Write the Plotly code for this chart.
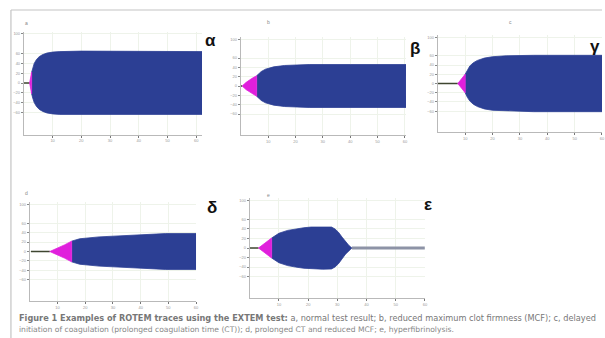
import plotly.graph_objects as go

W, H = 605, 338

# ---------------- data (time in min, half-amplitude in mm) ----------------
# a: normal
t_a = [2.0, 2.3, 2.7, 3.1, 3.6, 4.4, 5.4, 6.6, 8.0, 10.0, 12.5, 20, 30, 40, 50, 62]
amp_a = [0, 10, 22, 31, 40, 48, 54, 58, 61, 63, 64, 65, 65, 65, 64, 64]
nmag_a = 3
flat_a = [0.0, 2.0]
# b: reduced MCF
t_b = [0.5, 2.0, 4.0, 5.8, 7.5, 9.0, 12, 16, 25, 40, 60.4]
amp_b = [0, 8, 16, 22, 31, 36, 41, 44, 46, 46, 46]
nmag_b = 4
flat_b = [0.0, 0.5]
# c: prolonged CT
t_c = [7.3, 8.5, 10.0, 10.8, 11.7, 13.0, 14.5, 17, 20, 25, 35, 60]
amp_c = [0, 8, 20, 30, 38, 45, 50, 55, 58, 60, 61, 61]
nmag_c = 3
flat_c = [0.0, 7.3]
# d: prolonged CT + reduced MCF
t_d = [7.2, 10.0, 12.5, 15.1, 18, 25, 37, 49, 60]
amp_d = [0, 7, 14, 22, 27, 31, 35, 38, 38]
nmag_d = 4
flat_d = [0.4, 7.2]
# e: hyperfibrinolysis
t_e = [3.0, 5.0, 7.5, 10, 13, 15.7, 18.5, 21, 25, 28, 29.2, 30.4, 31.6, 32.8, 34.0, 35]
amp_e = [0, 10, 21, 31, 37, 40, 42.5, 44, 44.5, 44, 40, 33, 23, 13, 5, 0]
nmag_e = 3
flat_e = [0.0, 3.0]
tail_e = [35, 60]

x_ticks = [10, 20, 30, 40, 50, 60]
y_ticks = [100, 60, 40, 20, 0, -20, -40, -60]

greek = ["α", "β", "γ", "δ", "ε"]
small = ["a", "b", "c", "d", "e"]
caption1 = ("<b>Figure 1 Examples of ROTEM traces using the EXTEM test:</b> a, normal test result; "
            "b, reduced maximum clot firmness (MCF); c, delayed")
caption2 = ("initiation of coagulation (prolonged coagulation time (CT)); d, prolonged CT and "
            "reduced MCF; e, hyperfibrinolysis.")

BLUE = "#2c3f94"
MAG = "#e01fdc"

panels = [
    dict(t=t_a, a=amp_a, n=nmag_a, flat=flat_a, xr=[0, 62], box=(24, 203, 31.5, 134.5)),
    dict(t=t_b, a=amp_b, n=nmag_b, flat=flat_b, xr=[0, 60.4], box=(242, 408, 37, 135)),
    dict(t=t_c, a=amp_c, n=nmag_c, flat=flat_c, xr=[0, 60], box=(440, 605, 35, 132)),
    dict(t=t_d, a=amp_d, n=nmag_d, flat=flat_d, xr=[0, 60], box=(30, 197, 202, 301)),
    dict(t=t_e, a=amp_e, n=nmag_e, flat=flat_e, xr=[0, 60], box=(251, 427, 198, 298)),
]


def lens(t, a):
    return list(t) + list(t[::-1]), list(a) + [-v for v in a[::-1]]


fig = go.Figure()
layout = dict(
    width=W, height=H, margin=dict(l=0, r=0, t=0, b=0),
    paper_bgcolor="white", plot_bgcolor="white", showlegend=False,
)

for i, p in enumerate(panels):
    k = "" if i == 0 else str(i + 1)
    xa, ya = "x" + k, "y" + k
    l, r, tp, bt = p["box"]
    layout["xaxis" + k] = dict(
        domain=[l / W, min(r / W, 1.0)], range=p["xr"], anchor=ya,
        showline=True, linecolor="#b9b9b9", linewidth=1,
        showgrid=True, gridcolor="#eef3ea", gridwidth=1, zeroline=False,
        tickvals=x_ticks, ticks="outside", ticklen=2, tickcolor="#777",
        tickfont=dict(size=4, color="#999", family="Liberation Sans"),
    )
    layout["yaxis" + k] = dict(
        domain=[1 - bt / H, 1 - tp / H], range=[-105, 105], anchor=xa,
        showline=True, linecolor="#b9b9b9", linewidth=1,
        showgrid=True, gridcolor="#eef3ea", gridwidth=1, zeroline=False,
        tickvals=y_ticks, ticks="outside", ticklen=2, tickcolor="#888",
        tickfont=dict(size=4, color="#999", family="Liberation Sans"),
    )
    t, a, n = p["t"], p["a"], p["n"]
    fig.add_trace(go.Scatter(x=p["flat"], y=[0, 0], mode="lines", xaxis=xa, yaxis=ya,
                             line=dict(color="#3e4630", width=1.4), hoverinfo="skip"))
    bx, by = lens(t[n - 1:], a[n - 1:])
    fig.add_trace(go.Scatter(x=bx, y=by, mode="lines", fill="toself", fillcolor=BLUE,
                             line=dict(color=BLUE, width=0.8),
                             xaxis=xa, yaxis=ya, hoverinfo="skip"))
    mx, my = lens(t[:n], a[:n])
    fig.add_trace(go.Scatter(x=mx, y=my, mode="lines", fill="toself", fillcolor=MAG,
                             line=dict(color=MAG, width=0.8), xaxis=xa, yaxis=ya, hoverinfo="skip"))

fig.add_trace(go.Scatter(x=tail_e, y=[0, 0], mode="lines", xaxis="x5", yaxis="y5",
                         line=dict(color="#8d93a6", width=3), hoverinfo="skip"))

ann = []
greek_pos = [(212, 41), (417, 48), (598, 46), (213, 207), (430, 204)]
for g, (gx, gy) in zip(greek, greek_pos):
    ann.append(dict(x=gx / W, y=1 - gy / H, xref="paper", yref="paper", text="<b>" + g + "</b>",
                    showarrow=False, xanchor="center", yanchor="middle",
                    font=dict(size=17, color="#111", family="Liberation Sans")))
small_pos = [(27, 23), (270, 22), (513, 22), (27, 193), (270, 195)]
for s, (sx, sy) in zip(small, small_pos):
    ann.append(dict(x=sx / W, y=1 - sy / H, xref="paper", yref="paper", text=s,
                    showarrow=False, xanchor="center", yanchor="middle",
                    font=dict(size=5, color="#888", family="Liberation Sans")))
ann.append(dict(x=17 / W, y=1 - 318 / H, xref="paper", yref="paper", text=caption1,
                showarrow=False, xanchor="left", yanchor="middle",
                font=dict(size=8.2, color="#777", family="DejaVu Sans")))
ann.append(dict(x=17 / W, y=1 - 329 / H, xref="paper", yref="paper", text=caption2,
                showarrow=False, xanchor="left", yanchor="middle",
                font=dict(size=7.6, color="#888", family="DejaVu Sans")))
layout["annotations"] = ann

layout["shapes"] = [
    dict(type="line", xref="paper", yref="paper", x0=11 / W, x1=1, y0=1 - 10 / H, y1=1 - 10 / H,
         line=dict(color="#c4c4c4", width=1.2)),
    dict(type="line", xref="paper", yref="paper", x0=11 / W, x1=11 / W, y0=0, y1=1 - 10 / H,
         line=dict(color="#c4c4c4", width=1.2)),
]

fig.update_layout(**layout)
fig.write_html("out.html", config={"displayModeBar": False},
               post_script="document.body.style.margin='0';document.body.style.overflow='hidden';")
